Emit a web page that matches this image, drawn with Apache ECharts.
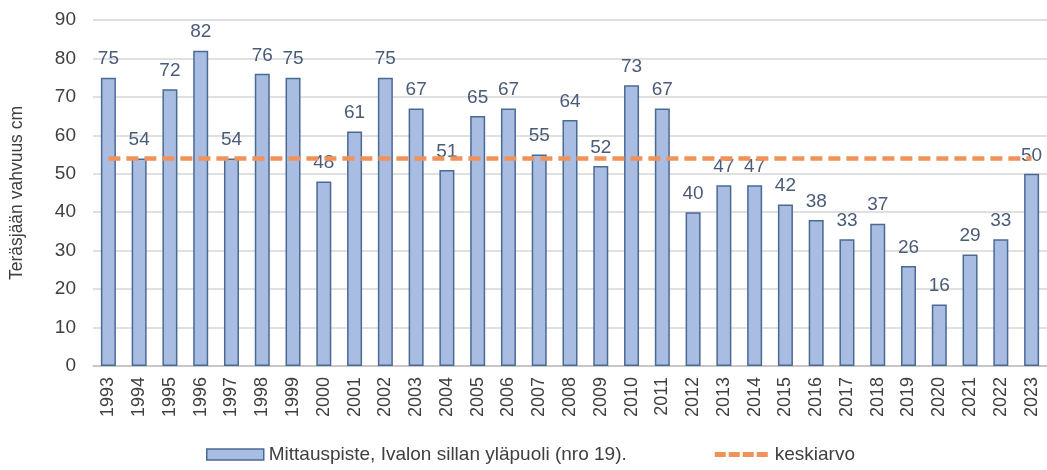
<!DOCTYPE html>
<html>
<head>
<meta charset="utf-8">
<script src="https://cdn.jsdelivr.net/npm/echarts@6/dist/echarts.min.js"></script>
<style>
html,body{margin:0;padding:0;background:#fff;}
#c{width:1047px;height:470px;}
</style>
</head>
<body>
<div id="c"></div>
<script>
const years = ['1993','1994','1995','1996','1997','1998','1999','2000','2001','2002','2003','2004','2005','2006','2007','2008','2009','2010','2011','2012','2013','2014','2015','2016','2017','2018','2019','2020','2021','2022','2023'];
const thickness = [75,54,72,82,54,76,75,48,61,75,67,51,65,67,55,64,52,73,67,40,47,47,42,38,33,37,26,16,29,33,50];
const average = [54,54,54,54,54,54,54,54,54,54,54,54,54,54,54,54,54,54,54,54,54,54,54,54,54,54,54,54,54,54,54];
const yTicks = [0,10,20,30,40,50,60,70,80,90];
const barName = 'Mittauspiste, Ivalon sillan yläpuoli (nro 19).';
const lineName = 'keskiarvo';
const yName = 'Teräsjään vahvuus cm';

const chart = echarts.init(document.getElementById('c'), null, {renderer:'canvas'});
const font = 'Liberation Sans, Arial, sans-serif';
const orange = '#F0925A';
chart.setOption({
  animation:false,
  textStyle:{fontFamily:font},
  grid:{left:92.5, right:-6.5, top:20, bottom:104, containLabel:false},
  legend:{
    top:440, left:201, itemGap:88,
    textStyle:{fontSize:19, color:'#404040', fontFamily:font},
    data:[
      {name:barName, icon:'rect', itemStyle:{color:'#A9BCE1', borderColor:'#4A6A96', borderWidth:1.5}},
      {name:lineName, icon:'path://M0,0h1v0h-1z M0,3h11v5h-11z M14,3h11v5h-11z M28,3h11v5h-11z M42,3h11v5h-11z M0,11h1v0h-1z', itemStyle:{color:orange}}
    ],
    itemWidth:57, itemHeight:11
  },
  xAxis:{
    type:'category', data:years,
    axisLine:{lineStyle:{color:'#BFBFBF', width:1.5}},
    axisTick:{show:false},
    axisLabel:{rotate:90, color:'#404040', fontSize:18, margin:11, interval:0, fontFamily:font}
  },
  yAxis:{
    type:'value', min:0, max:90, interval:10,
    name:yName, nameLocation:'middle', nameGap:67, nameRotate:90,
    nameTextStyle:{fontSize:17.5, color:'#404040', fontFamily:font},
    axisLine:{show:false}, axisTick:{show:false},
    axisLabel:{color:'#404040', fontSize:19, margin:17, fontFamily:font,
      formatter:function(v){return yTicks.indexOf(v)>=0?String(v):'';}},
    splitLine:{lineStyle:{color:'#D6D6D6', width:1.5}}
  },
  series:[
    {
      name:barName, type:'bar', data:thickness, barWidth:15,
      itemStyle:{color:'#A9BCE1', borderColor:'#4A6A96', borderWidth:1.5},
      label:{show:true, position:'top', distance:9, color:'#4A5B78', fontSize:19, fontFamily:font},
      z:2
    },
    {
      name:lineName, type:'line', data:average, symbol:'none', color:orange,
      itemStyle:{color:orange},
      lineStyle:{color:orange, width:4.5, type:[12,6]},
      z:3
    }
  ]
});
</script>
</body>
</html>
